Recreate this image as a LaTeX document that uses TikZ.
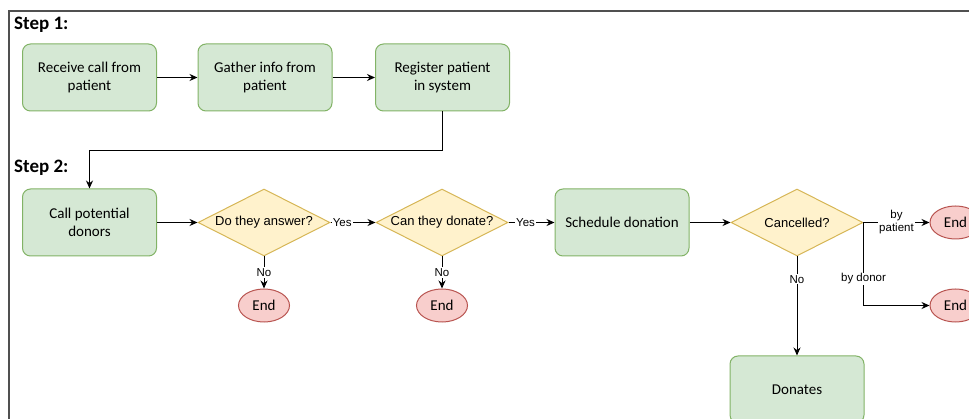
\documentclass[tikz,border=0pt]{standalone}
\usepackage{fontspec}
\setmainfont{Carlito}
\newfontfamily\labelfont{Liberation Sans}
\usetikzlibrary{shapes.geometric,arrows.meta}

\definecolor{boxfill}{HTML}{D5E8D4}
\definecolor{boxline}{HTML}{82B366}
\definecolor{askfill}{HTML}{FFF2CC}
\definecolor{askline}{HTML}{D6B656}
\definecolor{endfill}{HTML}{F8CECC}
\definecolor{endline}{HTML}{B85450}
\definecolor{frameline}{HTML}{505050}

\tikzset{
	task/.style={draw=boxline, fill=boxfill, line width=1pt, rounded corners=8pt,
		minimum width=134pt, minimum height=67pt, align=center,
		font=\fontsize{15}{18}\selectfont},
	ask/.style={diamond, aspect=2, inner sep=0pt, draw=askline, fill=askfill,
		line width=1pt, minimum width=132pt, minimum height=67pt,
		font=\labelfont\fontsize{13}{15}\selectfont},
	finish/.style={ellipse, inner sep=0pt, draw=endline, fill=endfill, line width=1pt,
		minimum width=51pt, minimum height=33pt, font=\fontsize{15}{18}\selectfont},
	flow/.style={-{Stealth[length=8pt, width=7pt]}, line width=1pt},
	tag/.style={fill=white, inner sep=1pt, align=center,
		font=\labelfont\fontsize{11.5}{13}\selectfont},
	steplabel/.style={anchor=base west, inner sep=0pt,
		font=\bfseries\fontsize{19}{21}\selectfont}
}

\begin{document}
\begin{tikzpicture}[x=1pt, y=-1pt]
\useasboundingbox (0,0) rectangle (969,419);
\clip (0,0) rectangle (969,419);

\draw [line width=1.5pt, frameline] (9,11) rectangle (1000,450);

% step 1
\node [steplabel] (step1) at (14,30) {Step 1:};
\node [task] (receive) at (89.5,77.5) {Receive call from\\patient};
\node [task] (gather) at (265,77.5) {Gather info from\\patient};
\node [task] (register) at (442.5,77.5) {Register patient\\in system};

\draw [flow] (receive) -- (gather);
\draw [flow] (gather) -- (register);

% step 2
\node [steplabel] (step2) at (14,173) {Step 2:};
\node [task] (call) at (89.5,222.5) {Call potential\\donors};
\node [ask] (answer) at (264,222.5) {Do they answer?};
\node [ask] (donate) at (442,222.5) {Can they donate?};
\node [finish] (end1) at (264,305.5) {End};
\node [finish] (end2) at (442,305.5) {End};
\node [task] (schedule) at (622,222.5) {Schedule donation};
\node [ask] (cancel) at (797,222.5) {Cancelled?};
\node [task] (donates) at (797,389.5) {Donates};
\node [finish] (end3) at (955.5,222.5) {End};
\node [finish] (end4) at (955.5,305.5) {End};

\draw [flow] (register.south) -- ++(0,39) -| (call.north);
\draw [flow] (call) -- (answer);
\draw [flow] (answer) -- node [tag, pos=0.26] {Yes} (donate);
\draw [flow] (answer) -- node [tag] {No} (end1);
\draw [flow] (donate) -- node [tag, pos=0.37] {Yes} (schedule);
\draw [flow] (donate) -- node [tag] {No} (end2);
\draw [flow] (schedule) -- (cancel);
\draw [flow] (cancel) -- node [tag, pos=0.23] {No} (donates);
\draw [flow] (cancel.east) -- node [tag] {by\\patient} (end3);
\draw [flow] (cancel.east) |- node [tag, pos=0.34] {by donor} (end4);
\end{tikzpicture}
\end{document}
